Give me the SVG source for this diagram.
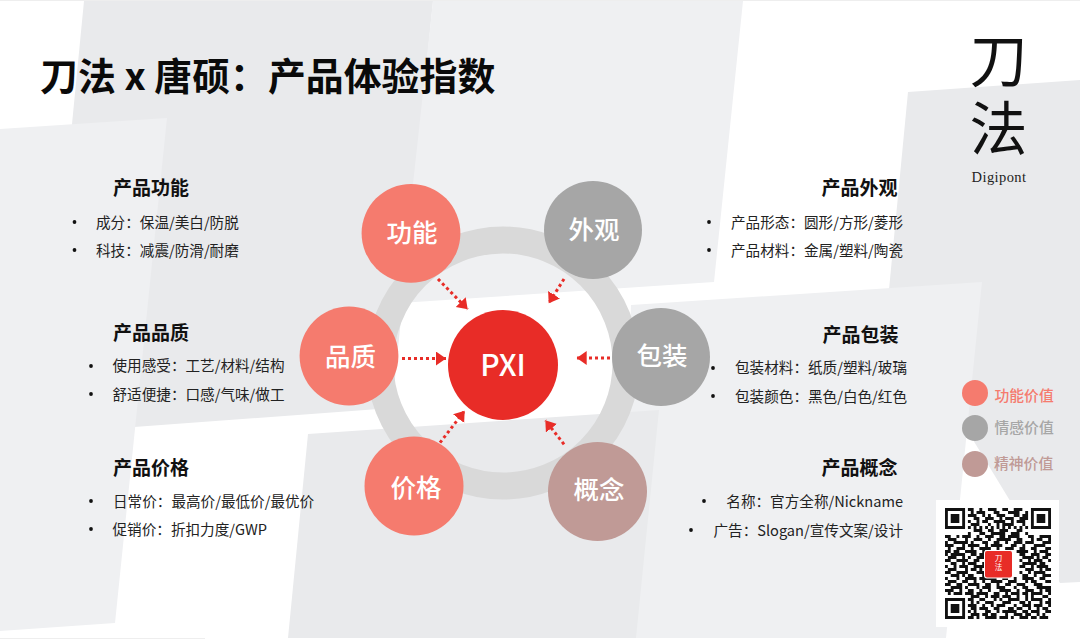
<svg xmlns="http://www.w3.org/2000/svg" width="1080" height="639" viewBox="0 0 1080 639">
<style>
text{font-family:"Noto Sans CJK SC","Noto Sans",sans-serif}
.dark{fill:#e9eaec}.light{fill:#eff0f2}
.h{font-size:19px;font-weight:700;fill:#111}
.b{font-size:14.6px;fill:#222}
.e{text-anchor:end}
.dot{fill:#111}
.n{font-size:25.5px;font-weight:500;fill:#fff;text-anchor:middle}
.fn{fill:#f57b6e}.em{fill:#a6a6a6}.sp{fill:#c09a96}
.lg{font-size:14.8px;font-weight:500}
.c{stroke:#e82c27;stroke-width:3;stroke-dasharray:3 3;fill:none;marker-end:url(#ah)}
</style>
<defs><marker id="ah" markerUnits="userSpaceOnUse" markerWidth="12" markerHeight="16" refX="10" refY="7" orient="auto"><path d="M0 0L10 7L0 14z" fill="#e82c27" stroke="none"/></marker></defs>
<g id="background">
<rect width="1080" height="639" fill="#fff"/>
<rect width="1080" height="1" fill="#eeeeee"/>
<polygon class="dark" points="84,1 433,1 392,408 134,427 72,124"/>
<polygon class="dark" points="908,92 1080,80 1080,582 1060,583 888,300"/>
<polygon class="light" points="0,129 167,118 115,623 0,631"/>
<polygon class="light" points="433,1 743,1 714,282 400,303"/>
<polygon class="light" points="631,305 982,282 946,638 620,638"/>
<polygon class="dark" points="308,434 659,410 636,638 288,638"/>
<rect y="638" width="205" height="1" fill="#eeeeee"/>
</g>
<g id="ring"><circle cx="503" cy="363" r="123" fill="none" stroke="#d9d9d9" stroke-width="27"/></g>
<g id="connectors">
<line class="c" x1="438" y1="279" x2="467.700" y2="309.300"/>
<line class="c" x1="564" y1="279" x2="548.700" y2="303.300"/>
<line class="c" x1="402" y1="358.500" x2="446" y2="358.500"/>
<line class="c" x1="610" y1="358" x2="576.700" y2="358"/>
<line class="c" x1="440" y1="442.700" x2="464.700" y2="410.700"/>
<line class="c" x1="564" y1="444.300" x2="545.300" y2="420.300"/>
</g>
<g id="node-pxi"><circle cx="503" cy="365" r="55" fill="#e82c27"/><text class="n" x="503" y="376" style="font-size:30px;font-weight:500">PXI</text></g>
<g id="node-gongneng"><circle class="fn" cx="411" cy="233.300" r="49.400"/><text class="n" x="412" y="242">功能</text></g>
<g id="node-waiguan"><circle class="em" cx="593" cy="230" r="49"/><text class="n" x="594" y="239">外观</text></g>
<g id="node-pinzhi"><circle class="fn" cx="349" cy="356" r="49.400"/><text class="n" x="350.500" y="366">品质</text></g>
<g id="node-baozhuang"><circle class="em" cx="661" cy="357" r="49"/><text class="n" x="662" y="365">包装</text></g>
<g id="node-jiage"><circle class="fn" cx="414" cy="486" r="49.500"/><text class="n" x="416" y="497">价格</text></g>
<g id="node-gainian"><circle class="sp" cx="597.500" cy="491.500" r="49.500"/><text class="n" x="599" y="499">概念</text></g>
<g id="title"><text x="40" y="90" style="font-size:37.900px;font-weight:700;fill:#0a0a0a">刀法 x 唐硕：产品体验指数</text></g>
<g id="logo">
<text x="998.500" y="31" writing-mode="vertical-rl" style="font-size:58px;font-weight:400;letter-spacing:10px;fill:#111">刀法</text>
<text x="999" y="182" text-anchor="middle" style="font-family:'Liberation Serif',serif;font-size:14.500px;letter-spacing:.4px;fill:#222">Digipont</text>
</g>
<g id="info-gongneng">
<text class="h" x="113" y="195">产品功能</text>
<circle class="dot" cx="74.500" cy="222" r="1.900"/><text class="b" x="96" y="227.500">成分：保温/美白/防脱</text>
<circle class="dot" cx="74.500" cy="250" r="1.900"/><text class="b" x="96" y="255.500">科技：减震/防滑/耐磨</text>
</g>
<g id="info-pinzhi">
<text class="h" x="113" y="339.500">产品品质</text>
<circle class="dot" cx="91" cy="366" r="1.900"/><text class="b" x="112.500" y="370.500">使用感受：工艺/材料/结构</text>
<circle class="dot" cx="91" cy="394" r="1.900"/><text class="b" x="112.500" y="399.500">舒适便捷：口感/气味/做工</text>
</g>
<g id="info-jiage">
<text class="h" x="113" y="475">产品价格</text>
<circle class="dot" cx="91" cy="501" r="1.900"/><text class="b" x="113" y="506.500">日常价：最高价/最低价/最优价</text>
<circle class="dot" cx="91" cy="529" r="1.900"/><text class="b" x="112.500" y="534.500">促销价：折扣力度/GWP</text>
</g>
<g id="info-waiguan">
<text class="h e" x="897.500" y="195">产品外观</text>
<circle class="dot" cx="709" cy="222" r="1.900"/><text class="b e" x="903" y="227.500">产品形态：圆形/方形/菱形</text>
<circle class="dot" cx="709" cy="250" r="1.900"/><text class="b e" x="903" y="255.500">产品材料：金属/塑料/陶瓷</text>
</g>
<g id="info-baozhuang">
<text class="h e" x="898.500" y="342">产品包装</text>
<circle class="dot" cx="713" cy="368" r="1.900"/><text class="b e" x="907" y="372.500">包装材料：纸质/塑料/玻璃</text>
<circle class="dot" cx="713" cy="396" r="1.900"/><text class="b e" x="907" y="401.500">包装颜色：黑色/白色/红色</text>
</g>
<g id="info-gainian">
<text class="h e" x="897.500" y="475">产品概念</text>
<circle class="dot" cx="704" cy="501" r="1.900"/><text class="b e" x="903" y="506.500">名称：官方全称/Nickname</text>
<circle class="dot" cx="691" cy="530" r="1.900"/><text class="b e" x="903" y="535.500">广告：Slogan/宣传文案/设计</text>
</g>
<g id="legend">
<circle class="fn" cx="975" cy="393" r="13"/><text class="lg fn" x="994.500" y="400.500">功能价值</text>
<circle class="em" cx="975" cy="428" r="13"/><text class="lg em" x="994.500" y="433">情感价值</text>
<circle class="sp" cx="975" cy="464" r="13"/><text class="lg sp" x="994" y="469">精神价值</text>
</g>
<g id="qr">
<rect x="936" y="500" width="123" height="127" fill="#fff"/>
<g transform="translate(945 508) scale(2.865 3)">
<path fill="#111" fill-rule="evenodd" d="M0 0h7v7h-7zM1 1v5h5v-5zM2 2h3v3h-3zM30 0h7v7h-7zM31 1v5h5v-5zM32 2h3v3h-3zM0 30h7v7h-7zM1 31v5h5v-5zM2 32h3v3h-3z"/>
<path stroke="#111" stroke-width="1" fill="none" d="M8 .5h2M12 .5h1M15 .5h3M20 .5h2M24 .5h3M9 1.500h1M11 1.500h3M17 1.500h2M22 1.500h4M28 1.500h1M8 2.500h3M13 2.500h1M15 2.500h1M18 2.500h3M24 2.500h2M27 2.500h2M10 3.500h2M14 3.500h3M19 3.500h1M21 3.500h3M26 3.500h3M8 4.500h1M11 4.500h1M13 4.500h2M17 4.500h4M23 4.500h1M25 4.500h3M9 5.500h3M15 5.500h1M18 5.500h1M20 5.500h4M27 5.500h1M8 6.500h1M10 6.500h1M12 6.500h1M14 6.500h1M16 6.500h1M18 6.500h1M20 6.500h1M22 6.500h1M24 6.500h1M26 6.500h1M28 6.500h1M10 7.500h3M15 7.500h2M19 7.500h3M25 7.500h2M8 8.500h1M12 8.500h2M16 8.500h5M23 8.500h3M28 8.500h1M0 9.500h2M4 9.500h1M6 9.500h3M11 9.500h1M14 9.500h3M19 9.500h2M22 9.500h4M29 9.500h2M33 9.500h4M1 10.500h3M7 10.500h1M10 10.500h3M15 10.500h1M18 10.500h5M25 10.500h2M30 10.500h1M32 10.500h2M36 10.500h1M0 11.500h1M3 11.500h5M9 11.500h1M13 11.500h2M17 11.500h2M21 11.500h1M24 11.500h3M28 11.500h3M34 11.500h3M0 12.500h3M6 12.500h1M8 12.500h4M14 12.500h1M16 12.500h4M23 12.500h2M27 12.500h1M31 12.500h4M1 13.500h1M4 13.500h3M9 13.500h1M12 13.500h4M18 13.500h1M21 13.500h3M26 13.500h2M30 13.500h2M35 13.500h2M0 14.500h2M3 14.500h2M7 14.500h4M13 14.500h1M16 14.500h3M22 14.500h1M25 14.500h4M31 14.500h1M33 14.500h3M0 15.500h1M2 15.500h5M9 15.500h2M12 15.500h2M26 15.500h2M30 15.500h3M35 15.500h2M1 16.500h3M6 16.500h1M8 16.500h1M11 16.500h3M27 16.500h4M32 16.500h1M34 16.500h2M0 17.500h2M4 17.500h4M10 17.500h2M26 17.500h1M29 17.500h1M31 17.500h3M36 17.500h1M2 18.500h2M6 18.500h1M8 18.500h3M13 18.500h1M27 18.500h5M33 18.500h2M0 19.500h1M3 19.500h1M5 19.500h3M10 19.500h4M26 19.500h2M30 19.500h1M32 19.500h4M1 20.500h3M7 20.500h1M9 20.500h2M12 20.500h1M28 20.500h3M33 20.500h1M35 20.500h2M0 21.500h2M4 21.500h4M11 21.500h3M26 21.500h1M29 21.500h1M31 21.500h4M2 22.500h3M6 22.500h1M8 22.500h2M13 22.500h1M27 22.500h2M31 22.500h1M34 22.500h3M0 23.500h1M4 23.500h1M7 23.500h4M12 23.500h6M20 23.500h2M24 23.500h1M27 23.500h4M33 23.500h2M1 24.500h3M6 24.500h2M10 24.500h1M13 24.500h1M16 24.500h4M22 24.500h3M28 24.500h1M30 24.500h2M35 24.500h2M0 25.500h2M4 25.500h2M8 25.500h4M14 25.500h2M18 25.500h1M21 25.500h2M25 25.500h3M31 25.500h3M2 26.500h4M7 26.500h1M11 26.500h1M13 26.500h3M18 26.500h3M24 26.500h1M27 26.500h2M32 26.500h5M0 27.500h3M5 27.500h1M8 27.500h2M12 27.500h1M15 27.500h1M19 27.500h4M25 27.500h1M28 27.500h3M33 27.500h1M35 27.500h2M1 28.500h1M3 28.500h3M7 28.500h3M11 28.500h4M17 28.500h2M21 28.500h1M23 28.500h3M27 28.500h2M30 28.500h4M36 28.500h1M9 29.500h3M14 29.500h1M16 29.500h3M20 29.500h3M25 29.500h1M28 29.500h1M30 29.500h1M34 29.500h2M8 30.500h2M12 30.500h2M17 30.500h1M19 30.500h1M22 30.500h4M28 30.500h1M30 30.500h4M36 30.500h1M9 31.500h1M11 31.500h1M14 31.500h3M20 31.500h3M26 31.500h2M29 31.500h1M33 31.500h1M35 31.500h2M8 32.500h3M13 32.500h1M16 32.500h1M18 32.500h3M24 32.500h1M27 32.500h3M31 32.500h3M36 32.500h1M9 33.500h2M12 33.500h3M17 33.500h2M22 33.500h2M25 33.500h2M29 33.500h1M32 33.500h1M34 33.500h2M8 34.500h1M10 34.500h1M14 34.500h2M18 34.500h1M20 34.500h5M27 34.500h2M30 34.500h3M35 34.500h2M9 35.500h3M13 35.500h2M16 35.500h2M21 35.500h1M24 35.500h3M28 35.500h2M32 35.500h1M34 35.500h1M8 36.500h2M11 36.500h1M14 36.500h4M19 36.500h3M23 36.500h1M26 36.500h3M30 36.500h2M33 36.500h3"/>
</g>
<rect x="984" y="550" width="29" height="28.500" rx="3" fill="#fff"/>
<rect x="985" y="551" width="27" height="26.500" rx="2" fill="#e82c27"/>
<text x="998.500" y="561" text-anchor="middle" style="font-size:7.500px;fill:#fff">刀</text>
<text x="998.500" y="570" text-anchor="middle" style="font-size:7.500px;fill:#fff">法</text>
</g>
</svg>
